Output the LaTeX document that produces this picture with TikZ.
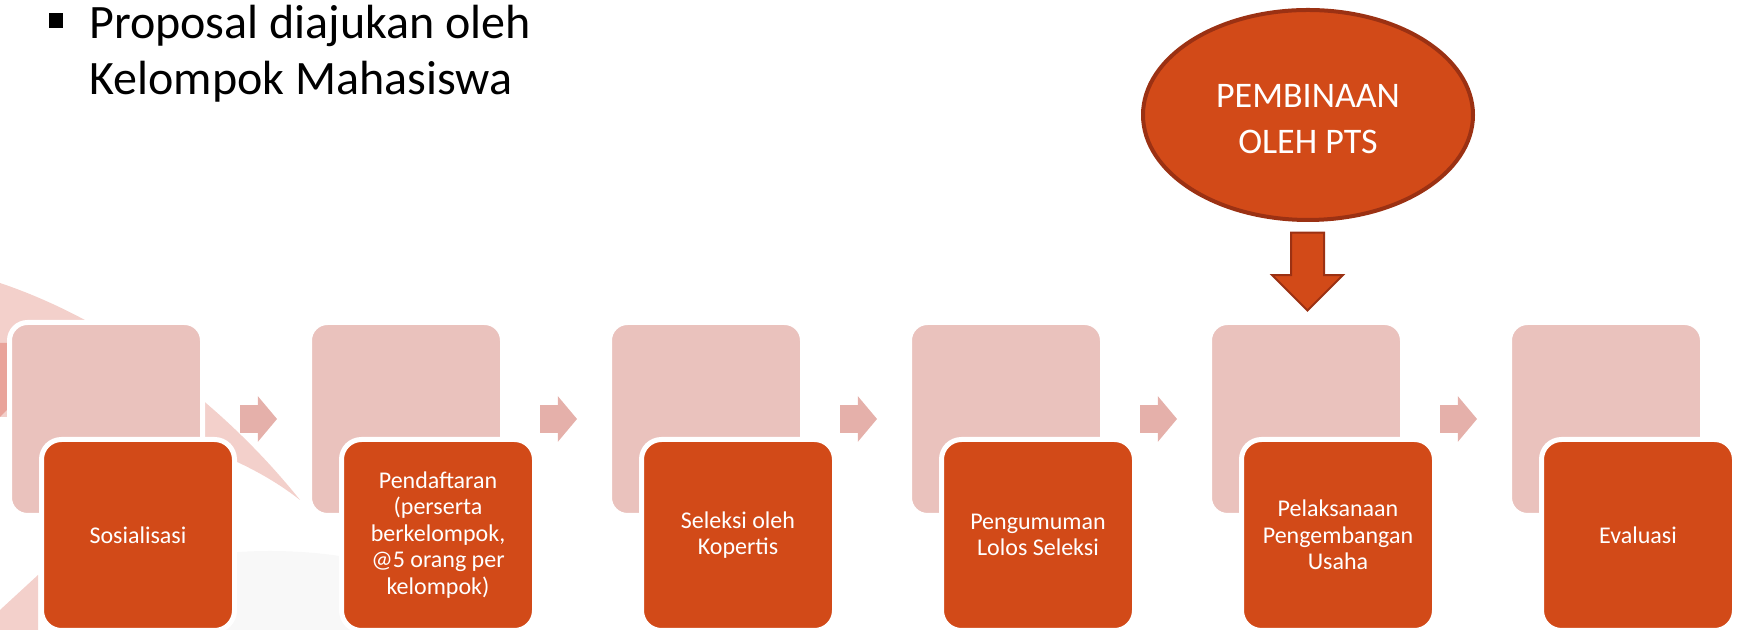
\documentclass[tikz,border=0pt]{standalone}
\usepackage{fontspec}
\setmainfont{Carlito}
\usetikzlibrary{shapes.geometric, shapes.arrows, positioning}

\definecolor{rust}{HTML}{D24A18}
\definecolor{rustdark}{HTML}{9B3113}
\definecolor{blush}{HTML}{EAC2BD}
\definecolor{blusharrow}{HTML}{E5B0AA}
\definecolor{swoosh}{HTML}{F3D0CB}
\definecolor{swooshdark}{HTML}{E9A39A}
\definecolor{haze}{HTML}{F8F8F8}

\begin{document}
\begin{tikzpicture}[x=0.5pt, y=0.5pt,
	backbox/.style={rectangle, rounded corners=9pt, fill=blush, draw=white, line width=2.5pt,
		minimum width=96.5pt, minimum height=96.5pt, inner sep=0pt, outer sep=0pt},
	stepbox/.style={rectangle, rounded corners=10pt, fill=rust, draw=white, line width=2.5pt,
		minimum width=96.5pt, minimum height=95.5pt, inner sep=2pt, outer sep=0pt,
		text=white, align=center, font=\fontsize{12}{13.3}\selectfont},
	flow/.style={single arrow, fill=blusharrow, minimum height=18.5pt, inner xsep=0pt, inner ysep=6.75pt,
		single arrow head extend=4.5pt, single arrow tip angle=100, outer sep=0pt},
	]
	\useasboundingbox (0,0) rectangle (1737,630);

	\fill [haze] (270,-1) ellipse [x radius=200, y radius=80];
	\fill [swoosh] (0,347) .. controls (110,310) and (220,230) .. (300,130)
		.. controls (230,185) and (120,215) .. (0,213) -- cycle;
	\fill [swooshdark] (0,287) -- (7,287) -- (7,220) -- (0,213) -- cycle;
	\fill [swoosh] (0,0) -- (0,20) -- (38,55) -- (38,0) -- cycle;

	\node [backbox] (l1) at (106,211) {};
	\node [backbox] (l2) at (406,211) {};
	\node [backbox] (l3) at (706,211) {};
	\node [backbox] (l4) at (1006,211) {};
	\node [backbox] (l5) at (1306,211) {};
	\node [backbox] (l6) at (1606,211) {};

	\node [stepbox] (s1) at (138,95) {Sosialisasi};
	\node [stepbox] (s2) at (438,95) {Pendaftaran\\(perserta\\berkelompok,\\@5 orang per\\kelompok)};
	\node [stepbox] (s3) at (738,95) {Seleksi oleh\\Kopertis};
	\node [stepbox] (s4) at (1038,95) {Pengumuman\\Lolos Seleksi};
	\node [stepbox] (s5) at (1338,95) {Pelaksanaan\\Pengembangan\\Usaha};
	\node [stepbox] (s6) at (1638,95) {Evaluasi};

	\node [flow, right=18.75pt of l1] (a1) {};
	\node [flow, right=18.75pt of l2] (a2) {};
	\node [flow, right=18.75pt of l3] (a3) {};
	\node [flow, right=18.75pt of l4] (a4) {};
	\node [flow, right=18.75pt of l5] (a5) {};

	\node [ellipse, fill=rust, draw=rustdark, line width=2pt, minimum width=165pt, minimum height=105pt,
		inner sep=0pt] (coach) at (1308,515) {};
	\node [text=white, align=center, font=\fontsize{18}{23}\selectfont] (coachtext)
		at ([yshift=-2.2pt]coach.center) {PEMBINAAN\\OLEH PTS};
	\node [single arrow, rotate=-90, fill=rust, draw=rustdark, line width=1pt,
		minimum height=39pt, inner xsep=0pt, inner ysep=7.75pt, single arrow head extend=9.5pt,
		anchor=tip] (push) at (1307.5,318) {};

	\fill (49,617) rectangle (63,602);
	\node [anchor=base west, font=\fontsize{24}{28}\selectfont, inner sep=0pt] (title1) at (89,591) {Proposal diajukan oleh};
	\node [anchor=base west, font=\fontsize{24}{28}\selectfont, inner sep=0pt] (title2) at (89,535) {Kelompok Mahasiswa};

\end{tikzpicture}
\end{document}
